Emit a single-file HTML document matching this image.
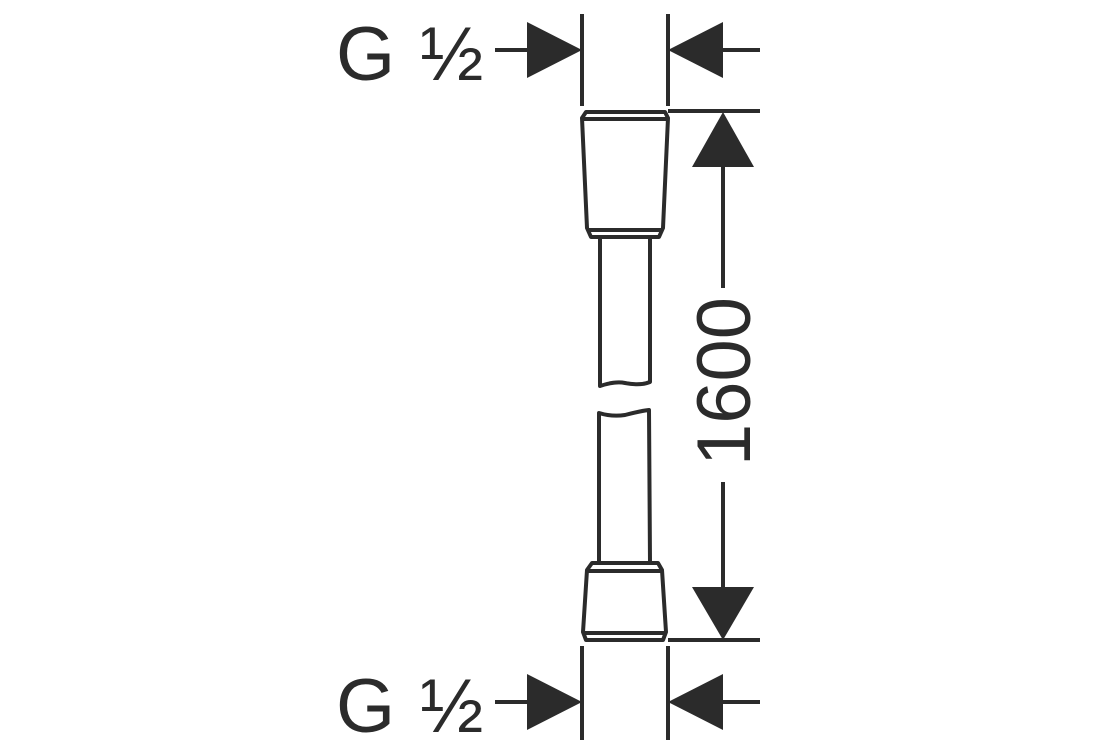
<!DOCTYPE html>
<html><head><style>
html,body{margin:0;padding:0;background:#fff;}
svg{display:block}
text{font-family:"Liberation Sans","DejaVu Sans",sans-serif;fill:#2b2b2b}
</style></head><body>
<svg width="1120" height="750" viewBox="0 0 1120 750" xmlns="http://www.w3.org/2000/svg">
<g stroke="#2b2b2b" stroke-width="4" fill="none" stroke-linejoin="round">
<!-- extension lines -->
<line x1="582" y1="14" x2="582" y2="106"/>
<line x1="668" y1="14" x2="668" y2="106"/>
<line x1="582" y1="646" x2="582" y2="740"/>
<line x1="668" y1="646" x2="668" y2="740"/>
<line x1="668" y1="111" x2="760" y2="111"/>
<line x1="668" y1="640" x2="760" y2="640"/>
<!-- horizontal dim lines -->
<line x1="495" y1="50" x2="530" y2="50"/>
<line x1="720" y1="50" x2="760" y2="50"/>
<line x1="495" y1="702" x2="530" y2="702"/>
<line x1="720" y1="702" x2="760" y2="702"/>
<!-- vertical dim -->
<line x1="723" y1="160" x2="723" y2="288"/>
<line x1="723" y1="482" x2="723" y2="590"/>
<!-- top connector -->
<path d="M586 112 L665 112 L668 118 L663 228 L659 237 L591 237 L587 228 L582 118 Z"/>
<line x1="583" y1="119" x2="668" y2="119"/>
<line x1="588" y1="230" x2="663" y2="230"/>
<path d="M600 237 L600 386 Q615 381 625 383 Q640 386 650 382 L650 237"/>
<!-- bottom connector -->
<path d="M599 563 L599 413 Q612 417 625 415 Q640 411 649 410 L650 563"/>
<path d="M592 563 L658 563 L662 570 L666 632 L663 640 L586 640 L583 632 L587 570 Z"/>
<line x1="588" y1="571" x2="662" y2="571"/>
<line x1="584" y1="633" x2="666" y2="633"/>
</g>
<g fill="#2b2b2b">
<polygon points="582,50 527,22 527,78"/>
<polygon points="668,50 723,22 723,78"/>
<polygon points="582,702 527,674 527,730"/>
<polygon points="668,702 723,674 723,730"/>
<polygon points="723,112 692,167 754,167"/>
<polygon points="723,640 692,587 754,587"/>
</g>
<text x="336" y="80" font-size="76">G</text>
<text x="420" y="80" font-size="76">½</text>
<text x="336" y="732" font-size="76">G</text>
<text x="420" y="732" font-size="76">½</text>
<text transform="translate(750,466) rotate(-90)" font-size="76">1600</text>
</svg>
</body></html>
